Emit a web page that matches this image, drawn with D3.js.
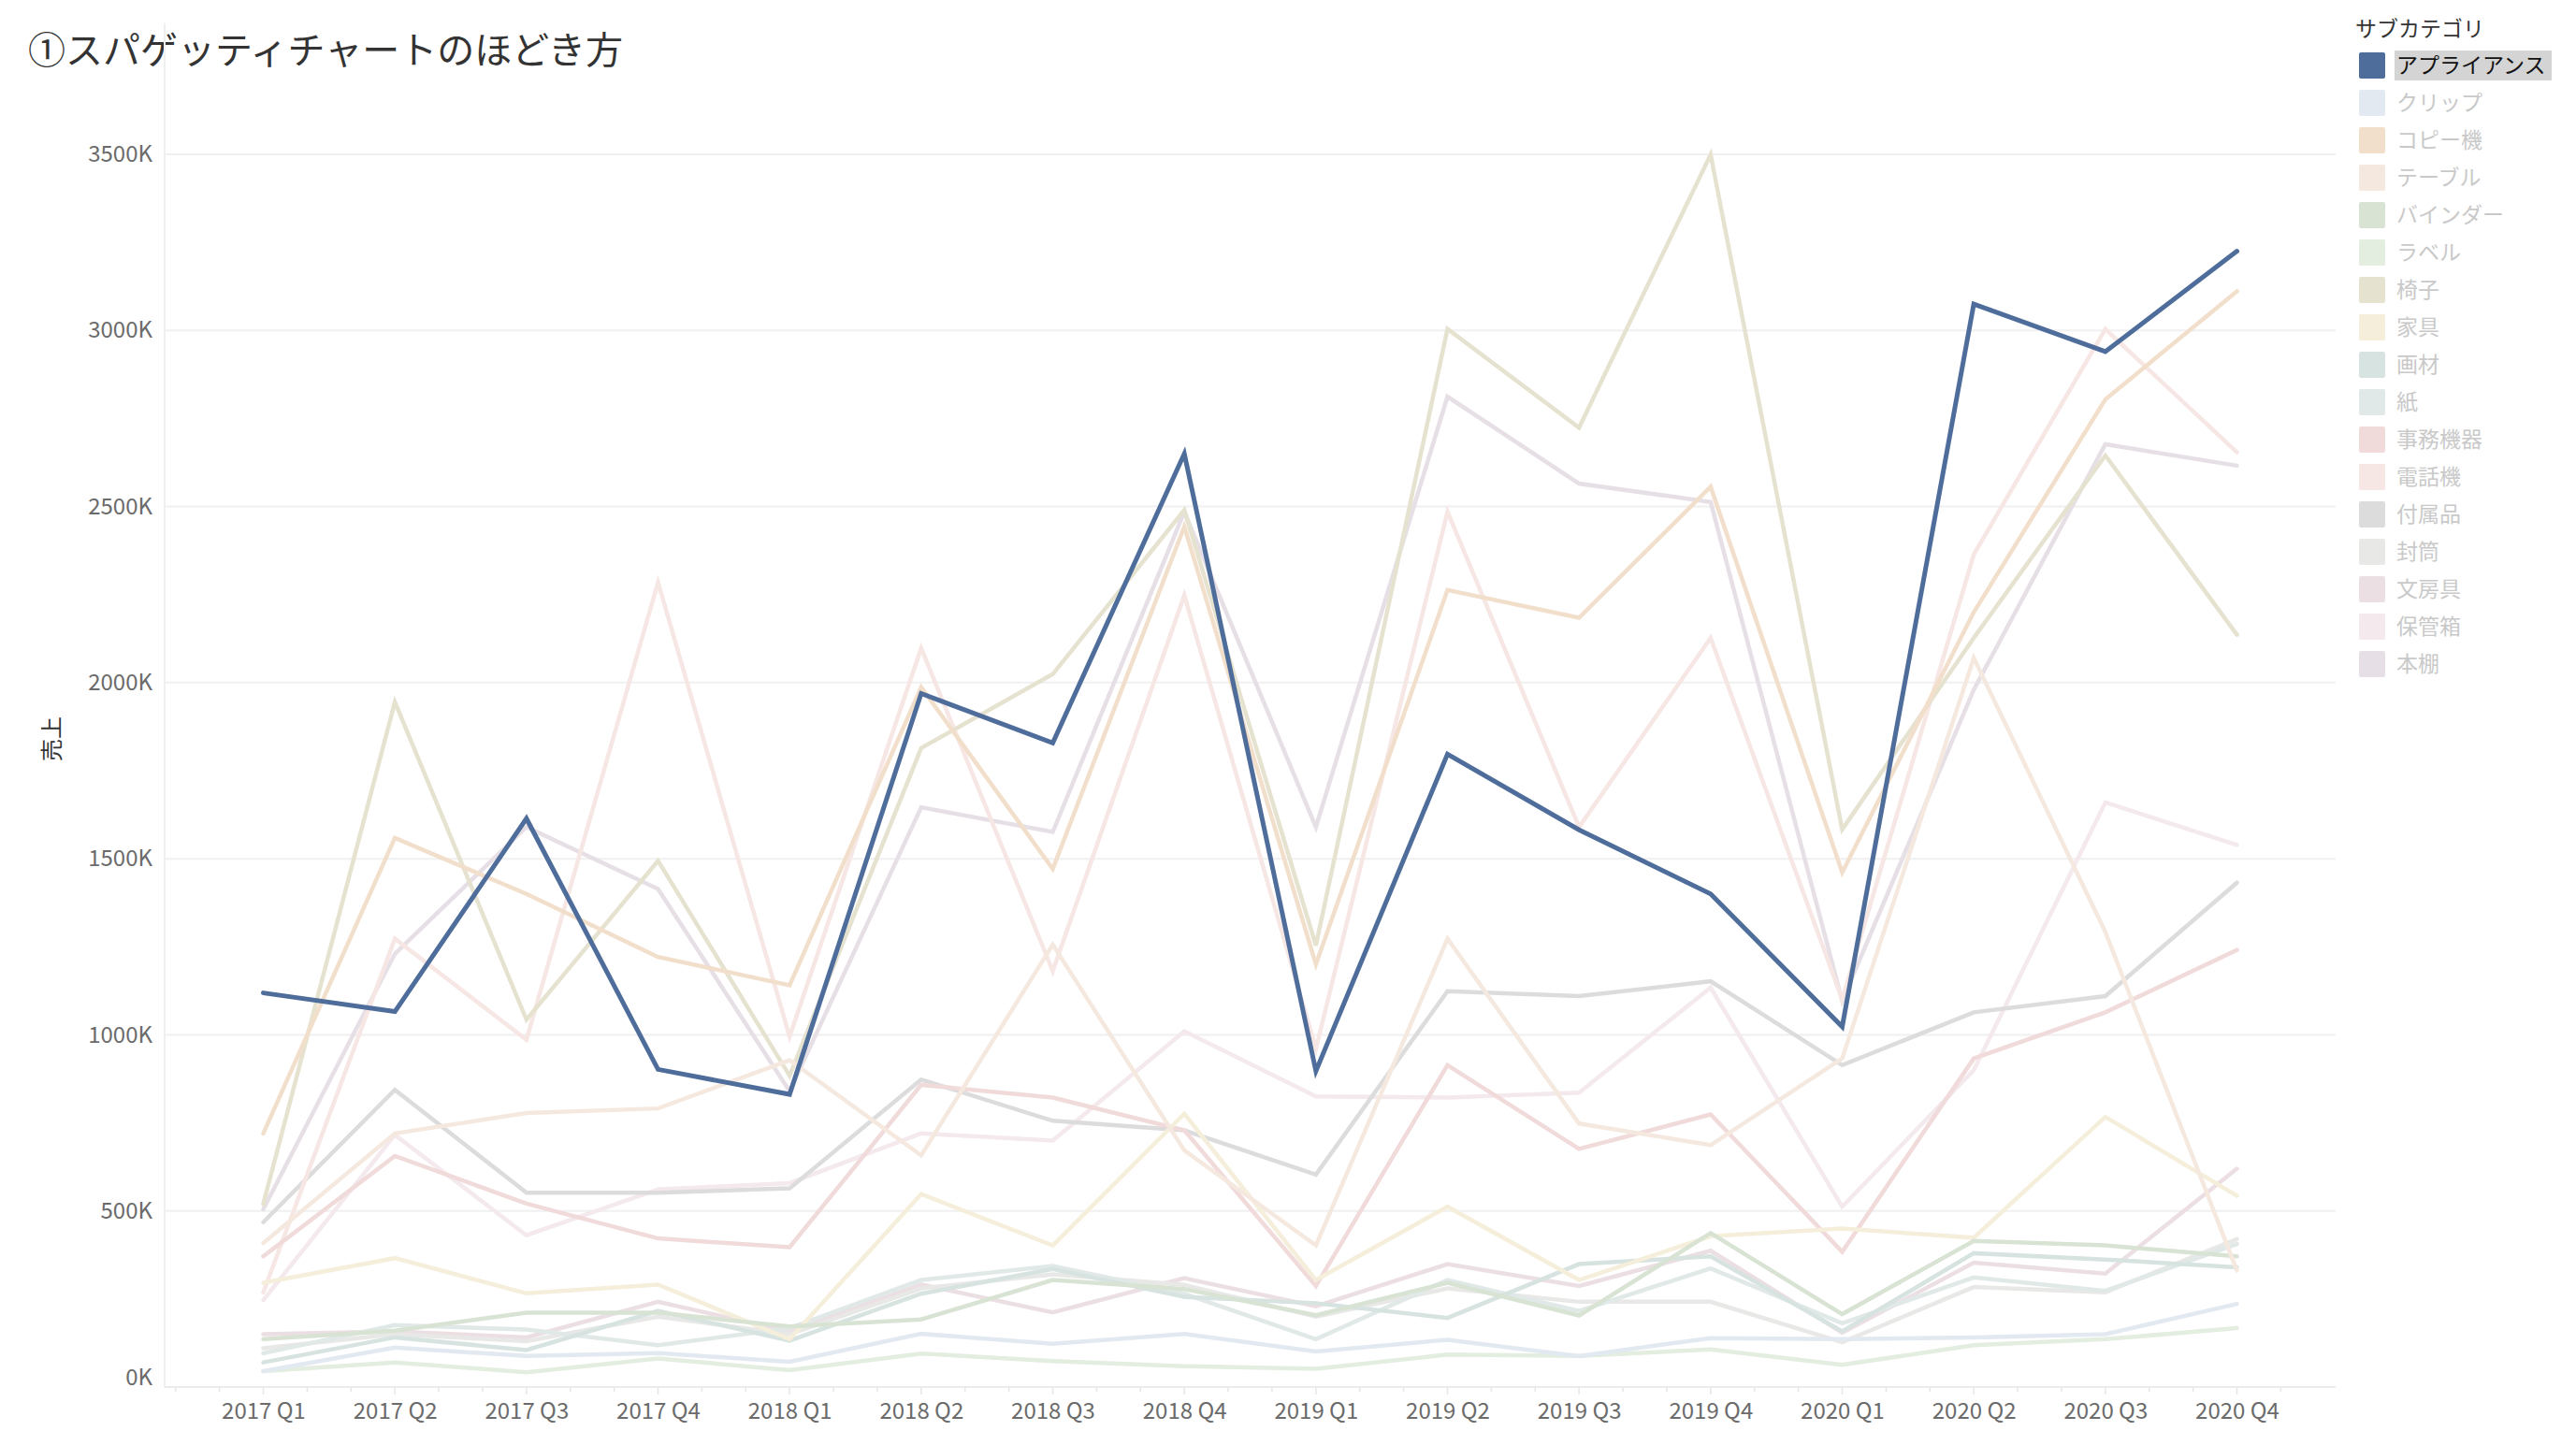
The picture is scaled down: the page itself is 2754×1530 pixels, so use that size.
<!DOCTYPE html>
<html>
<head>
<meta charset="utf-8">
<script src="https://cdn.jsdelivr.net/npm/d3@7"></script>
<style>
  html, body { margin: 0; padding: 0; background: #fff; }
  svg { display: block; }
</style>
</head>
<body>
<div id="chart"></div>
<script>
// 四半期
const quarters = ["2017 Q1", "2017 Q2", "2017 Q3", "2017 Q4", "2018 Q1", "2018 Q2", "2018 Q3", "2018 Q4",
  "2019 Q1", "2019 Q2", "2019 Q3", "2019 Q4", "2020 Q1", "2020 Q2", "2020 Q3", "2020 Q4"];

const subcats = ["アプライアンス", "クリップ", "コピー機", "テーブル", "バインダー", "ラベル", "椅子", "家具",
  "画材", "紙", "事務機器", "電話機", "付属品", "封筒", "文房具", "保管箱", "本棚"];

const subcatColors = ["#4e6d9b", "#e3e9f0", "#f2dfcb", "#f5e9df", "#d8e3d4", "#e3ede0", "#e6e2d0", "#f4eedb",
  "#d7e3e0", "#e0e9e7", "#f0dada", "#f6e6e4", "#dcdcdc", "#e8e8e7", "#ecdfe3", "#f4e9ed", "#e6dfe6"];

const yTicks = [0, 500, 1000, 1500, 2000, 2500, 3000, 3500];

// 売上 (K)
const appliance = [1119, 1066, 1614, 902, 831, 1969, 1829, 2650, 897, 1797, 1582, 1400, 1023, 3075, 2940, 3225];
const clip = [45, 112, 88, 96, 72, 151, 123, 151, 101, 134, 88, 139, 136, 141, 150, 236];
const copier = [720, 1559, 1400, 1221, 1141, 1987, 1471, 2443, 1200, 2263, 2184, 2556, 1461, 2200, 2804, 3111];
const table = [409, 720, 778, 791, 928, 658, 1256, 672, 402, 1273, 748, 687, 933, 2070, 1292, 331];
const binder = [136, 160, 211, 211, 172, 192, 304, 278, 204, 296, 203, 437, 207, 415, 402, 371];
const label = [45, 70, 42, 81, 48, 95, 74, 59, 52, 92, 88, 107, 63, 119, 136, 167];
const chair = [520, 1945, 1043, 1494, 884, 1814, 2024, 2490, 1254, 3004, 2724, 3499, 1583, 2127, 2645, 2136];
const furniture = [296, 366, 266, 291, 136, 548, 402, 776, 304, 512, 304, 428, 450, 424, 767, 543];
const artSupplies = [70, 141, 105, 216, 132, 265, 335, 256, 238, 196, 349, 371, 158, 380, 362, 340];
const paper = [96, 176, 163, 119, 167, 304, 344, 265, 136, 304, 216, 337, 181, 311, 273, 406];
const officeMachines = [371, 656, 521, 422, 397, 858, 822, 729, 287, 914, 676, 774, 384, 933, 1064, 1241];
const phones = [269, 1273, 986, 2285, 995, 2098, 1181, 2248, 960, 2485, 1590, 2127, 1100, 2364, 3004, 2654];
const accessories = [468, 844, 552, 552, 564, 873, 756, 729, 603, 1124, 1110, 1152, 914, 1064, 1110, 1432];
const envelopes = [110, 150, 130, 200, 150, 280, 320, 290, 200, 280, 242, 242, 127, 284, 269, 420];
const stationery = [150, 158, 141, 242, 158, 291, 212, 309, 229, 349, 287, 387, 154, 353, 322, 620];
const storage = [247, 716, 431, 561, 579, 720, 700, 1010, 825, 822, 836, 1134, 512, 900, 1660, 1539];
const bookcases = [505, 1230, 1590, 1414, 840, 1646, 1576, 2485, 1590, 2812, 2565, 2513, 1096, 1980, 2677, 2616];

const seriesValues = [appliance, clip, copier, table, binder, label, chair, furniture,
  artSupplies, paper, officeMachines, phones, accessories, envelopes, stationery, storage, bookcases];

const highlighted = "アプライアンス";

const W = 2754, H = 1530;
const margin = { top: 165, right: 257, bottom: 47, left: 176 };
const plotW = W - margin.left - margin.right,
  plotH = H - margin.top - margin.bottom;

const font = "'Noto Sans CJK JP', 'Noto Sans', sans-serif";

const svg = d3.select("#chart").append("svg")
  .attr("width", W)
  .attr("height", H)
  .style("font-family", font);

// title
svg.append("text")
  .attr("x", 30)
  .attr("y", 68)
  .attr("font-size", 40)
  .attr("fill", "#333")
  .text("①スパゲッティチャートのほどき方");

const g = svg.append("g")
  .attr("transform", "translate(" + margin.left + "," + margin.top + ")");

const xScale = d3.scalePoint().domain(quarters).range([0, plotW]).padding(0.75);
const yScale = d3.scaleLinear().domain([0, 3500]).range([plotH, 0]);
const step = xScale.step();

// gridlines
g.append("g")
  .selectAll("line")
  .data(yTicks.filter(d => d > 0))
  .enter().append("line")
  .attr("x1", 0).attr("x2", plotW)
  .attr("y1", d => yScale(d)).attr("y2", d => yScale(d))
  .attr("stroke", "#f0f0f0")
  .attr("stroke-width", 2);

// left border and baseline
g.append("line")
  .attr("x1", 0).attr("x2", 0)
  .attr("y1", -140).attr("y2", plotH)
  .attr("stroke", "#efefef").attr("stroke-width", 2);
g.append("line")
  .attr("x1", 0).attr("x2", plotW)
  .attr("y1", plotH).attr("y2", plotH)
  .attr("stroke", "#ebebeb").attr("stroke-width", 2);

// month ticks on x axis
const monthTicks = d3.range(-2, quarters.length * 3 - 1).map(k => xScale(quarters[0]) + k * step / 3);
g.append("g")
  .selectAll("line")
  .data(monthTicks)
  .enter().append("line")
  .attr("x1", d => d).attr("x2", d => d)
  .attr("y1", plotH)
  .attr("y2", (d, i) => plotH + ((i + 1) % 3 === 0 ? 8 : 5))
  .attr("stroke", "#e6e6e6").attr("stroke-width", 1.5);

// x axis labels
const xAxis = g.append("g")
  .attr("transform", "translate(0," + plotH + ")")
  .call(d3.axisBottom(xScale).tickSize(0).tickPadding(17));
xAxis.select(".domain").remove();
xAxis.selectAll("text")
  .attr("font-size", 24)
  .attr("fill", "#6b6b6b")
  .style("font-family", font);

// y axis labels
const yAxis = g.append("g")
  .call(d3.axisLeft(yScale).tickValues(yTicks).tickFormat(d => d + "K").tickSize(0).tickPadding(13));
yAxis.select(".domain").remove();
yAxis.selectAll("text")
  .attr("font-size", 24)
  .attr("fill", "#6b6b6b")
  .style("font-family", font)
  .attr("dy", d => d === 0 ? "-0.1em" : "0.32em");

// y axis title
svg.append("text")
  .attr("transform", "translate(64,790) rotate(-90)")
  .attr("text-anchor", "middle")
  .attr("font-size", 24)
  .attr("fill", "#333")
  .text("売上");

// lines
const lineGen = d3.line()
  .x((d, i) => xScale(quarters[i]))
  .y(d => yScale(d));

const series = subcats.map((name, i) => ({ name: name, color: subcatColors[i], values: seriesValues[i] }));
const ordered = series.filter(s => s.name !== highlighted).reverse()
  .concat(series.filter(s => s.name === highlighted));

g.append("g")
  .selectAll("path")
  .data(ordered)
  .enter().append("path")
  .attr("d", d => lineGen(d.values))
  .attr("fill", "none")
  .attr("stroke", d => d.color)
  .attr("stroke-width", d => d.name === highlighted ? 5 : 4.5)
  .attr("stroke-linejoin", "miter")
  .attr("stroke-linecap", "round");

// legend
const legend = svg.append("g").attr("transform", "translate(2518,0)");
legend.append("text")
  .attr("x", 0).attr("y", 39)
  .attr("font-size", 23)
  .attr("fill", "#333")
  .text("サブカテゴリ");

const items = legend.selectAll(".item")
  .data(series)
  .enter().append("g")
  .attr("class", "item")
  .attr("transform", (d, i) => "translate(0," + (70 + i * 40) + ")");

items.filter(d => d.name === highlighted)
  .append("rect")
  .attr("x", 42).attr("y", -16)
  .attr("width", 168).attr("height", 32)
  .attr("fill", "#d4d4d4");

items.append("rect")
  .attr("x", 4).attr("y", -14)
  .attr("width", 28).attr("height", 28)
  .attr("rx", 2)
  .attr("fill", d => d.color);

items.append("text")
  .attr("x", 44).attr("y", 8)
  .attr("font-size", 23)
  .attr("fill", d => d.name === highlighted ? "#111" : "#c9c9c9")
  .text(d => d.name);
</script>
</body>
</html>
